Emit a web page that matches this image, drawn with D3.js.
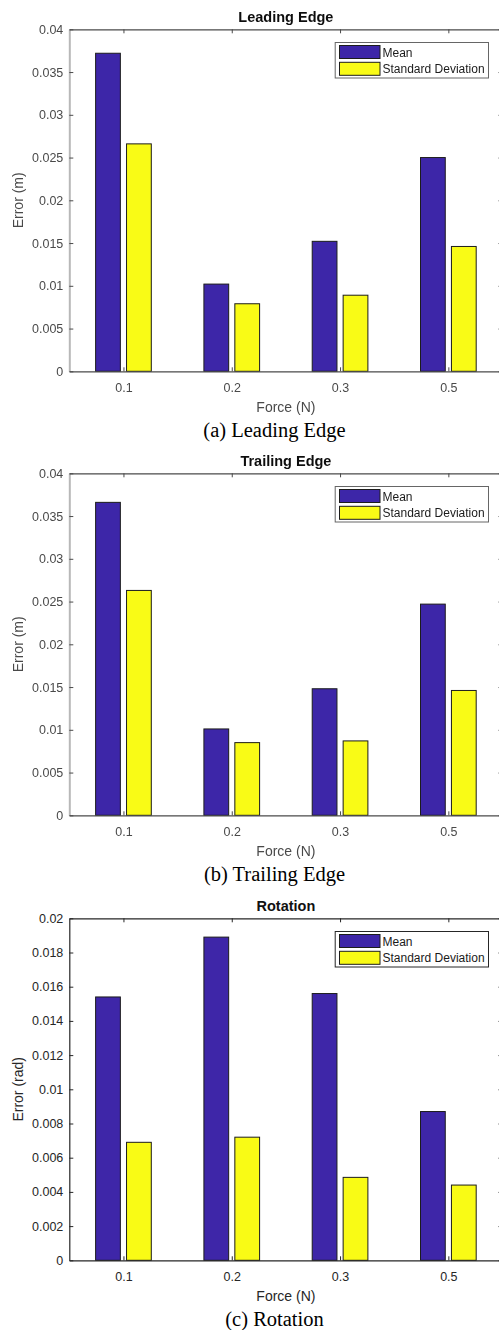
<!DOCTYPE html>
<html>
<head>
<meta charset="utf-8">
<script src="https://cdn.jsdelivr.net/npm/d3@7/dist/d3.min.js"></script>
<style>
  html, body { margin: 0; padding: 0; background: #fff; }
  svg { display: block; }
</style>
</head>
<body>
<svg id="fig" width="499" height="1330"></svg>
<script>
// Force levels on the x axis and the two bar series
const categories = ["0.1", "0.2", "0.3", "0.5"];
const seriesNames = ["Mean", "Standard Deviation"];

// Leading edge position error (m)
const leadingMean = [0.0372, 0.0102, 0.0152, 0.0250];
const leadingStd  = [0.0266, 0.0079, 0.0089, 0.0146];

// Trailing edge position error (m)
const trailingMean = [0.0366, 0.0101, 0.0148, 0.0247];
const trailingStd  = [0.0263, 0.0085, 0.0087, 0.0146];

// Rotation error (rad)
const rotationMean = [0.0154, 0.0189, 0.0156, 0.0087];
const rotationStd  = [0.0069, 0.0072, 0.00485, 0.0044];

// Y tick labels
const metreTicks = ["0", "0.005", "0.01", "0.015", "0.02", "0.025", "0.03", "0.035", "0.04"];
const radianTicks = ["0", "0.002", "0.004", "0.006", "0.008", "0.01", "0.012", "0.014", "0.016", "0.018", "0.02"];

const panels = [
  { title: "Leading Edge",  ylabel: "Error (m)",   caption: "(a) Leading Edge",  top: 29.3,  mean: leadingMean,  std: leadingStd,  ticks: metreTicks,  soft: true },
  { title: "Trailing Edge", ylabel: "Error (m)",   caption: "(b) Trailing Edge", top: 473.3, mean: trailingMean, std: trailingStd, ticks: metreTicks,  soft: true },
  { title: "Rotation",      ylabel: "Error (rad)", caption: "(c) Rotation",      top: 918.3, mean: rotationMean, std: rotationStd, ticks: radianTicks, soft: false }
];

const colors = ["#3e26a8", "#f9fb15"];
const plotH = 342;
const left = 69.3, right = 502.5;
const barOffset = 0.1428, barWidth = 0.2286;
const sans = "'Liberation Sans', Arial, Helvetica, sans-serif";
const serif = "'Liberation Serif', 'Times New Roman', Times, serif";

const svg = d3.select("#fig");
const defs = svg.append("defs");
defs.append("filter").attr("id", "soft")
  .attr("x", "-5%").attr("y", "-5%").attr("width", "110%").attr("height", "110%")
  .append("feGaussianBlur").attr("stdDeviation", 0.45);

const x = d3.scaleLinear().domain([0.5, categories.length + 0.5]).range([left, right]);

panels.forEach(p => {
  const top = p.top, bottom = top + plotH;
  const tickVals = p.ticks.map(Number);
  const y = d3.scaleLinear().domain([0, d3.max(tickVals)]).range([bottom, top]);
  const ink = p.soft ? "#4a4a4a" : "#262626";

  const g = svg.append("g");
  if (p.soft) g.attr("filter", "url(#soft)");

  // bars
  const series = [p.mean, p.std];
  series.forEach((vals, s) => {
    const off = s === 0 ? -barOffset : barOffset;
    g.append("g").selectAll("rect").data(vals).join("rect")
      .attr("x", (d, i) => x(i + 1 + off - barWidth / 2))
      .attr("width", (d, i) => x(i + 1 + off + barWidth / 2) - x(i + 1 + off - barWidth / 2))
      .attr("y", d => y(d))
      .attr("height", d => y(0) - y(d))
      .attr("fill", colors[s])
      .attr("stroke", "#1c1c1c")
      .attr("stroke-width", 1);
  });

  // left axis with labels
  const ya = g.append("g").attr("transform", `translate(${left},0)`)
    .call(d3.axisLeft(y).tickValues(tickVals).tickFormat((d, i) => p.ticks[i])
      .tickSize(-4).tickSizeOuter(0).tickPadding(6));
  ya.select(".domain").attr("stroke", p.soft ? "#b8b8b8" : "#262626").attr("stroke-width", p.soft ? 2 : 1.2);
  ya.selectAll(".tick line").attr("stroke", ink);
  ya.selectAll(".tick text").attr("font-family", sans).attr("font-size", 12.5).attr("fill", ink);

  // right axis (ticks only)
  const yr = g.append("g").attr("transform", `translate(${right},0)`)
    .call(d3.axisRight(y).tickValues(tickVals).tickFormat("").tickSize(-4).tickSizeOuter(0));
  yr.select(".domain").attr("stroke", ink);
  yr.selectAll(".tick line").attr("stroke", ink);

  // bottom axis with category labels
  const xa = g.append("g").attr("transform", `translate(0,${bottom})`)
    .call(d3.axisBottom(x).tickValues(d3.range(1, categories.length + 1))
      .tickFormat((d, i) => categories[i]).tickSize(-4).tickSizeOuter(0).tickPadding(0));
  xa.select(".domain").attr("stroke", ink).attr("stroke-width", 1.3);
  xa.selectAll(".tick line").attr("stroke", ink);
  xa.selectAll(".tick text").attr("font-family", sans).attr("font-size", 12.5).attr("fill", ink)
    .attr("y", 20.5).attr("dy", null);

  // top axis (ticks only)
  const xt = g.append("g").attr("transform", `translate(0,${top})`)
    .call(d3.axisTop(x).tickValues(d3.range(1, categories.length + 1))
      .tickFormat("").tickSize(-4).tickSizeOuter(0));
  xt.select(".domain").attr("stroke", ink).attr("stroke-width", 1.3);
  xt.selectAll(".tick line").attr("stroke", ink);

  // title
  g.append("text").attr("x", (left + right) / 2).attr("y", top - 7.5)
    .attr("text-anchor", "middle").attr("font-family", sans).attr("font-weight", "bold")
    .attr("font-size", 14.5).attr("fill", "#111").text(p.title);

  // axis labels
  g.append("text").attr("x", (left + right) / 2).attr("y", bottom + 40.5)
    .attr("text-anchor", "middle").attr("font-family", sans).attr("font-size", 14)
    .attr("fill", ink).text("Force (N)");
  g.append("text").attr("transform", `translate(23,${(top + bottom) / 2}) rotate(-90)`)
    .attr("text-anchor", "middle").attr("font-family", sans).attr("font-size", 14)
    .attr("fill", ink).text(p.ylabel);

  // legend
  const lg = g.append("g");
  lg.append("rect").attr("x", 335.2).attr("y", top + 13.2).attr("width", 153.3).attr("height", 35.5)
    .attr("fill", "#fff").attr("stroke", p.soft ? "#666" : "#262626").attr("stroke-width", 1);
  seriesNames.forEach((name, s) => {
    const ry = top + 16.2 + s * 16.8;
    lg.append("rect").attr("x", 339.5).attr("y", ry).attr("width", 40.5).attr("height", 13)
      .attr("fill", colors[s]).attr("stroke", "#1c1c1c").attr("stroke-width", 1);
    lg.append("text").attr("x", 382.5).attr("y", ry + 11)
      .attr("font-family", sans).attr("font-size", 12).attr("fill", "#1a1a1a").text(name);
  });

  // caption below the panel
  svg.append("text").attr("x", 274.5).attr("y", bottom + 66)
    .attr("text-anchor", "middle").attr("font-family", serif).attr("font-size", 20.5)
    .attr("fill", "#000").text(p.caption);
});
</script>
</body>
</html>
